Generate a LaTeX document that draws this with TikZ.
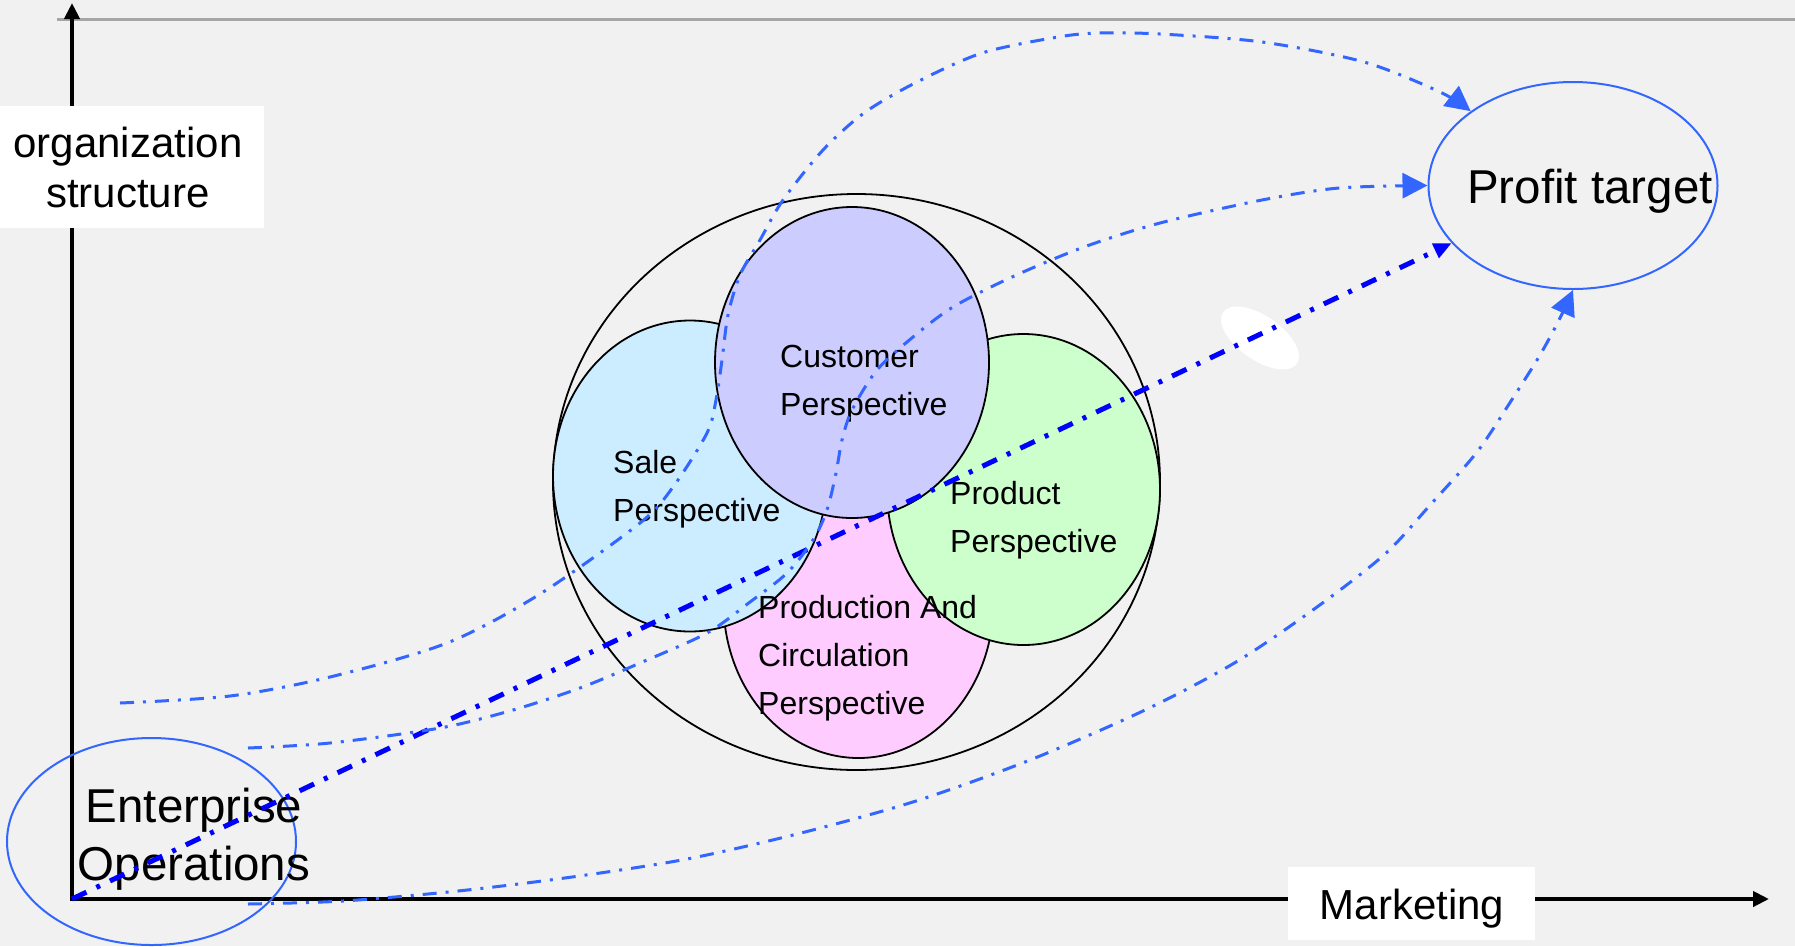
\documentclass[tikz,border=0pt]{standalone}
\usepackage{fontspec}
\setmainfont{Liberation Sans}
\usetikzlibrary{shapes.geometric,arrows.meta}
\definecolor{bg}{HTML}{F1F1F1}
\definecolor{lblue}{HTML}{3366FF}
\definecolor{dblue}{HTML}{0000FF}
\definecolor{custc}{HTML}{CCCCFF}
\definecolor{salec}{HTML}{CCECFF}
\definecolor{prodc}{HTML}{CCFFCC}
\definecolor{pcirc}{HTML}{FFCCFF}
\definecolor{gline}{HTML}{A6A6A6}
\begin{document}
\begin{tikzpicture}[x=1pt,y=-1pt,
  persp/.style={ellipse, draw=black, line width=1.8pt, inner sep=0pt},
  goal/.style={ellipse, draw=lblue, line width=2pt, inner sep=0pt, minimum width=289pt, minimum height=207pt},
  lbl/.style={inner sep=0pt, anchor=base west, font=\fontsize{32}{48}\selectfont},
  big/.style={inner sep=0pt, anchor=base, font=\fontsize{47.5}{58}\selectfont},
  axislbl/.style={inner sep=0pt, anchor=base, font=\fontsize{42}{50}\selectfont},
  axisline/.style={line width=4pt},
  flow/.style={draw=lblue, line width=3pt, dash pattern=on 14pt off 9pt on 3pt off 9pt, -{Triangle[length=25pt,width=25pt]}},
  mainflow/.style={draw=dblue, line width=5pt, dash pattern=on 16pt off 11pt on 4pt off 11pt, -{Triangle[length=18pt,width=15pt]}},
  whitebox/.style={fill=white, inner sep=0pt}
]
\useasboundingbox (0,0) rectangle (1795,946);
\fill[bg] (0,0) rectangle (1795,946);

% top grey rule
\coordinate (g0) at (57,19);
\coordinate (g1) at (1795,19);
\draw[gline, line width=3pt] (g0) -- (g1);

% axes
\coordinate (O) at (72,899);
\coordinate (ytip) at (72,3);
\coordinate (xtip) at (1769,899);
\draw[axisline, {Triangle[length=16pt,width=15pt]}-{Triangle[length=16pt,width=15pt]}] (ytip) -- (O) -- (xtip);

% axis labels
\node[whitebox, minimum width=264pt, minimum height=122pt] (orgbox) at (132,167) {};
\node[axislbl] (orgtxt) at (128,157) {\begin{tabular}[t]{@{}c@{}}organization\\structure\end{tabular}};
\node[whitebox, minimum width=247pt, minimum height=73pt] (mktbox) at (1411.5,903.5) {};
\node[axislbl] (mkttxt) at (1412,919) {Marketing};

% start and goal
\node[goal] (ent) at (151.5,841.5) {};
\node[big] (enttxt) at (194,822) {\begin{tabular}[t]{@{}c@{}}Enterprise\\Operations\end{tabular}};
\node[goal] (profit) at (1573,185.5) {};
\node[big] (profittxt) at (1590,203) {Profit target};

% perspectives
\node[persp, minimum width=607pt, minimum height=576pt] (outer) at (856.5,482) {};
\node[persp, fill=pcirc, minimum width=270pt, minimum height=311pt] (prodcirc) at (858.5,602.5) {};
\node[persp, fill=salec, minimum width=274pt, minimum height=311pt] (sale) at (690,476) {};
\node[persp, fill=prodc, minimum width=273pt, minimum height=311pt] (product) at (1023.5,489.5) {};
\node[persp, fill=custc, minimum width=274pt, minimum height=311pt] (customer) at (852,362.5) {};

\node[lbl] (custtxt) at (780,367) {\begin{tabular}[t]{@{}l@{}}Customer\\Perspective\end{tabular}};
\node[lbl] (saletxt) at (613,473) {\begin{tabular}[t]{@{}l@{}}Sale\\Perspective\end{tabular}};
\node[lbl] (producttxt) at (950,504) {\begin{tabular}[t]{@{}l@{}}Product\\Perspective\end{tabular}};
\node[lbl] (prodcirctxt) at (758,618) {\begin{tabular}[t]{@{}l@{}}Production And\\Circulation\\Perspective\end{tabular}};

% white glare
\node[ellipse, fill=white, inner sep=0pt, minimum width=90pt, minimum height=44pt, rotate=-35] (glare) at (1260,338) {};

% main direct path
\draw[mainflow] (O) -- (profit);

% curved paths
\coordinate (a0) at (120,703);
\coordinate (b0) at (248,748);
\coordinate (c0) at (248,904);
\draw[flow] plot[smooth] coordinates {(a0) (230,696) (330,677) (447,643) (540,594) (640,523) (673,487) (707,433) (716,400) (722,360) (728,315) (740,275) (760,240) (783,200) (823,150) (864,113) (915,83) (982,53) (1058,37) (1099,33) (1160,34) (1262,42) (1364,62) (1440,92) (profit.144)};
\draw[flow] plot[smooth] coordinates {(b0) (330,743) (440,728) (513,710) (580,688) (640,663) (707,633) (750,602) (787,573) (813,540) (827,510) (836,473) (842,440) (852,410) (877,370) (913,337) (953,307) (1012,277) (1084,247) (1160,223) (1262,200) (1339,188) (profit.west)};
\draw[flow] plot[smooth] coordinates {(c0) (343,901) (458,891) (572,877) (687,859) (801,833) (916,801) (1030,760) (1145,710) (1236,662) (1317,607) (1385,554) (1431,504) (1477,452) (1511,401) (1540,355) (1560,318) (profit.south)};
\end{tikzpicture}
\end{document}
